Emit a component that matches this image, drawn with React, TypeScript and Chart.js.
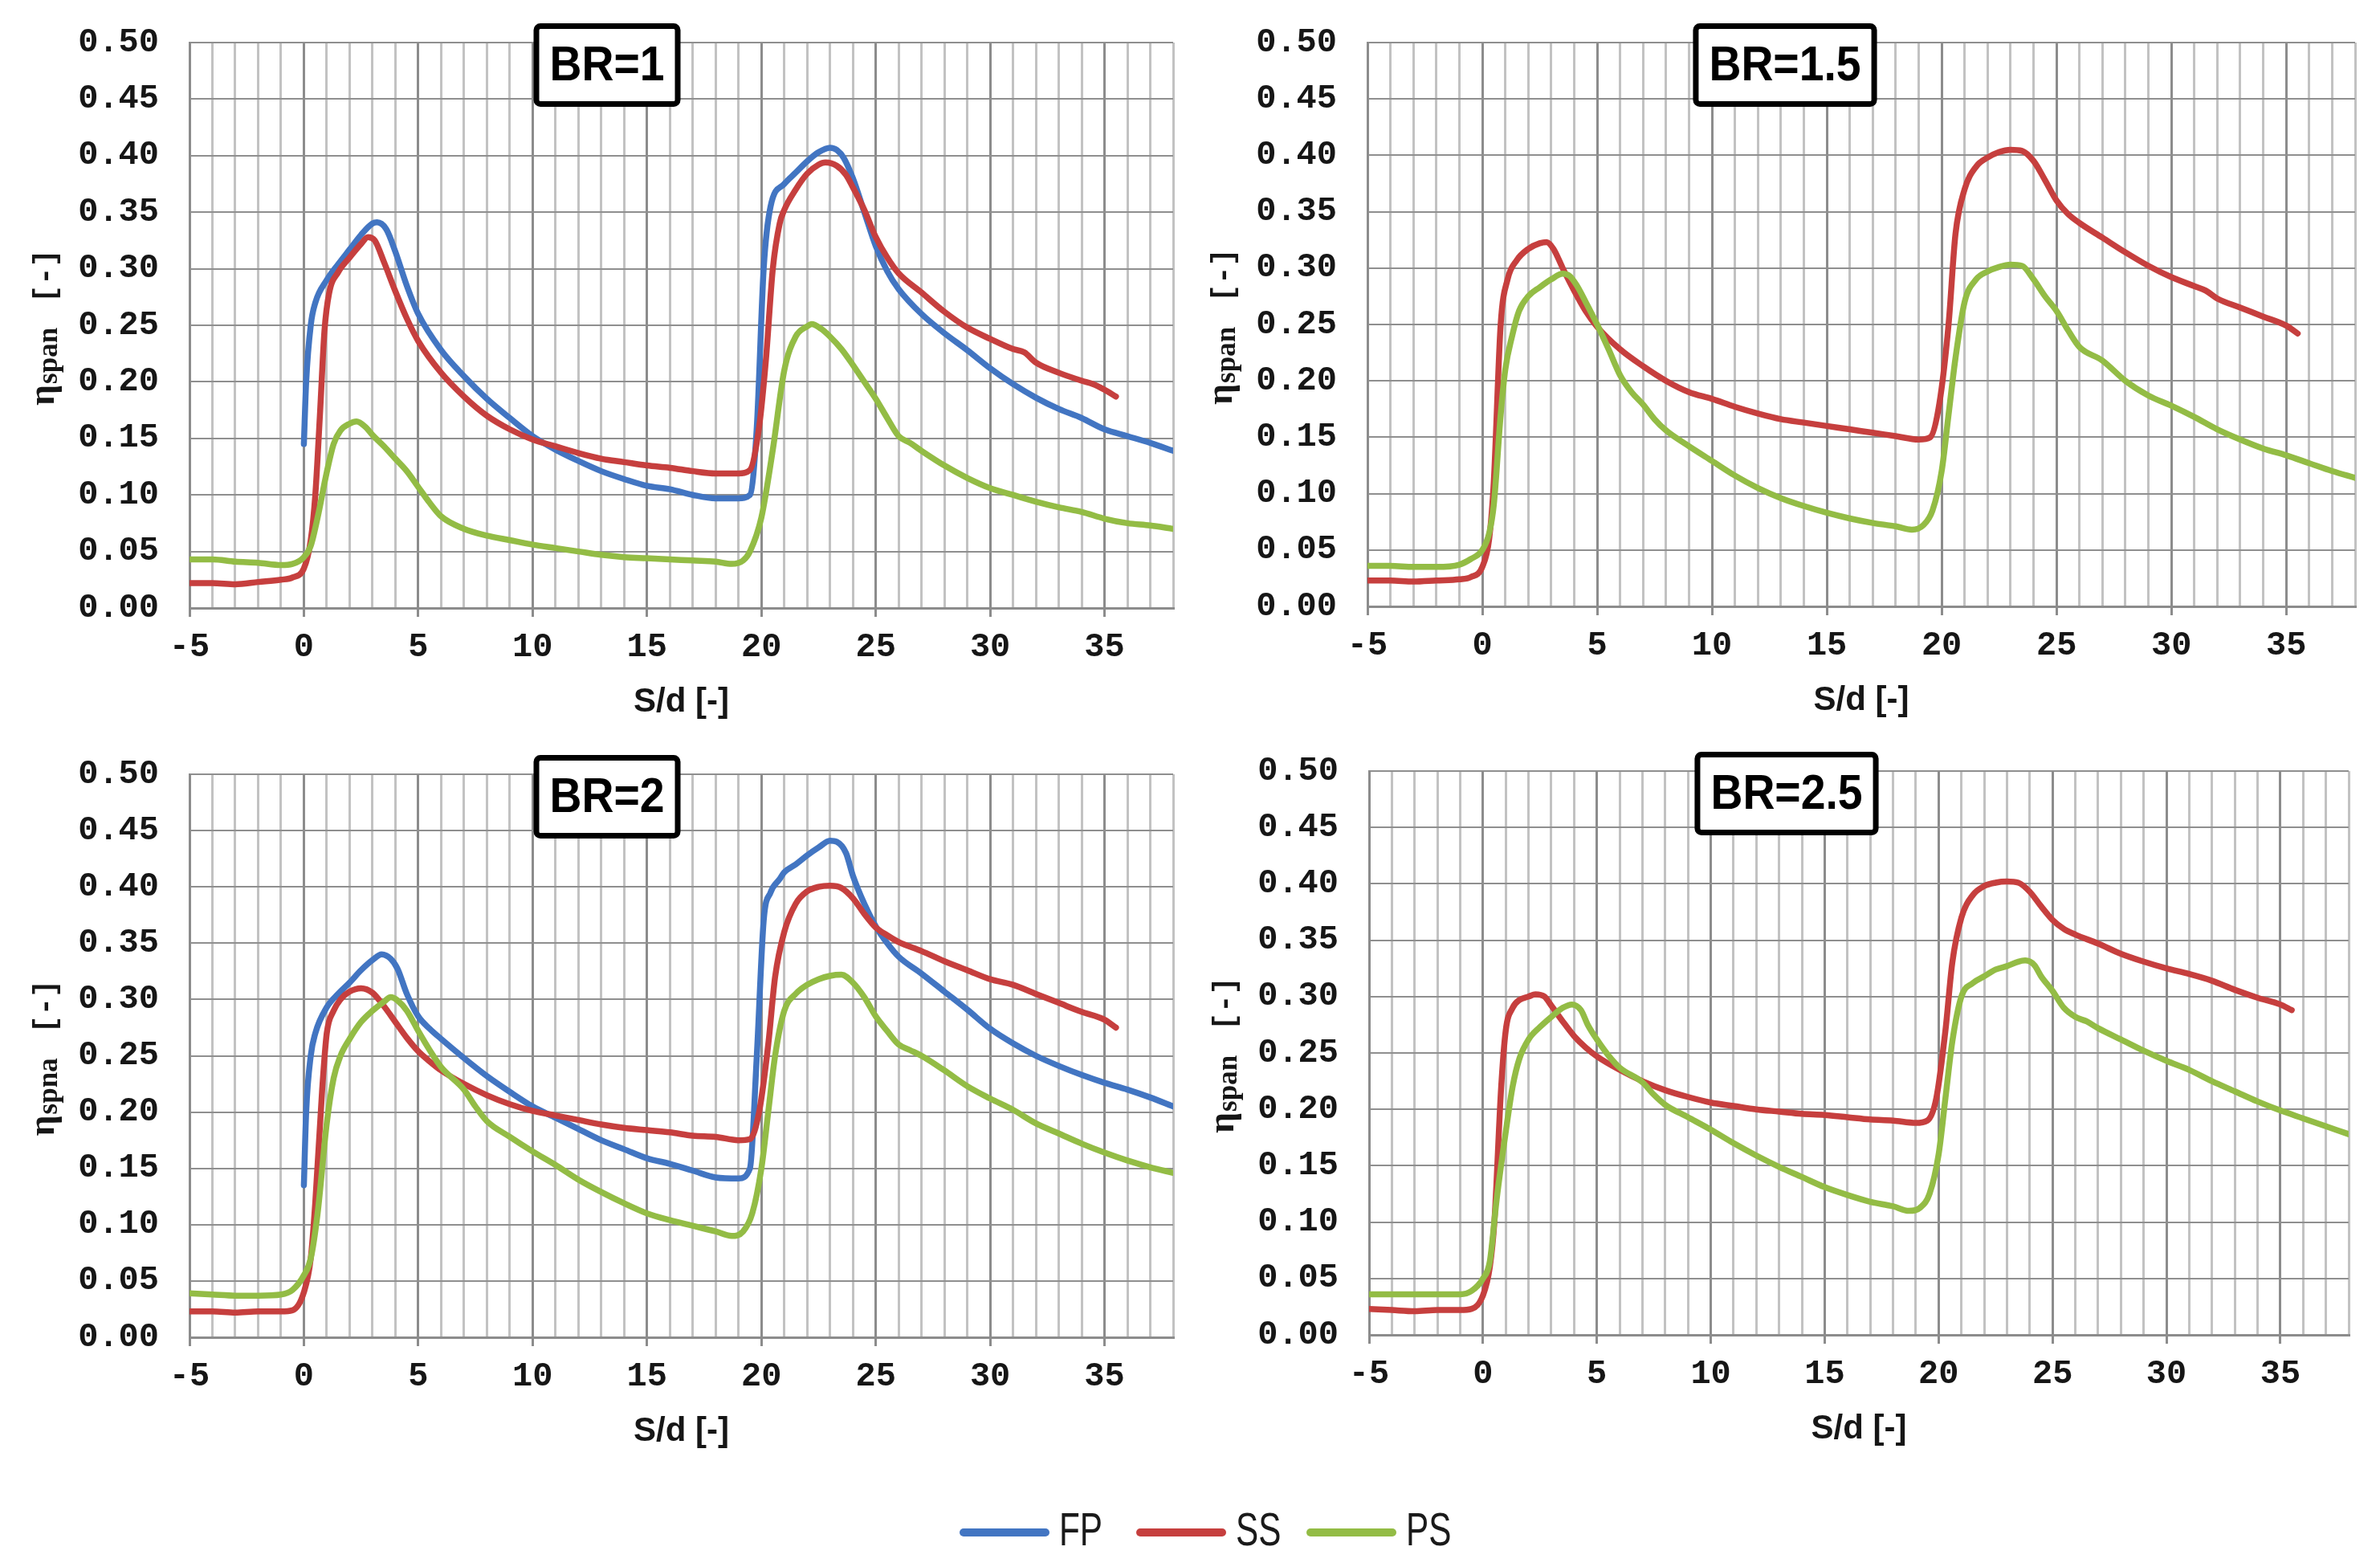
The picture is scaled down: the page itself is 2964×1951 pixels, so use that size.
import React, { useEffect, useRef } from 'react';
import { Chart, registerables } from 'chart.js';

Chart.register(...registerables);

type Pt = [number, number];

// ---------------- data ----------------
const SERIES_NAMES = ['FP', 'SS', 'PS'];
const PANEL_TITLES = ['BR=1', 'BR=1.5', 'BR=2', 'BR=2.5'];
const Y_SUBSCRIPTS = ['span', 'span', 'spna', 'span'];
const X_MIN = -5;
const X_MAX = 38;
const X_STEP = 1;
const X_LABEL_EVERY = 5;
const Y_MIN = 0;
const Y_MAX = 0.5;
const Y_STEP = 0.05;
const X_TITLE = 'S/d [-]';

const BR1_FP: Pt[] = [[0,0.145],[0.1,0.2],[0.3,0.25],[0.5,0.27],[1,0.29],[1.5,0.304],[2,0.317],[2.5,0.33],[3,0.34],[3.2,0.341],[3.6,0.335],[4,0.315],[4.5,0.285],[5,0.26],[6,0.228],[7,0.205],[8,0.185],[9,0.168],[10,0.152],[11,0.14],[12,0.13],[13,0.121],[14,0.114],[15,0.108],[16,0.105],[17,0.1],[18,0.097],[19,0.097],[19.5,0.1],[19.8,0.16],[20.1,0.3],[20.4,0.355],[21,0.375],[21.5,0.385],[22,0.395],[22.5,0.403],[23,0.407],[23.3,0.405],[23.6,0.398],[24,0.38],[24.5,0.35],[25,0.32],[25.5,0.298],[26,0.282],[27,0.26],[28,0.243],[29,0.228],[30,0.212],[31,0.198],[32,0.186],[33,0.176],[34,0.168],[35,0.158],[36,0.152],[37,0.146],[38,0.139]];
const BR1_SS: Pt[] = [[-5,0.022],[-4,0.022],[-3,0.021],[-2,0.023],[-1,0.025],[-0.5,0.027],[0,0.035],[0.3,0.06],[0.5,0.1],[0.7,0.17],[0.9,0.245],[1.1,0.278],[1.5,0.297],[2,0.31],[2.5,0.322],[2.8,0.328],[3.1,0.325],[3.5,0.306],[4,0.28],[4.5,0.256],[5,0.236],[6,0.208],[7,0.187],[8,0.17],[9,0.158],[10,0.149],[11,0.143],[12,0.137],[13,0.132],[14,0.129],[15,0.126],[16,0.124],[17,0.121],[18,0.119],[19,0.119],[19.5,0.122],[19.9,0.16],[20.2,0.22],[20.5,0.3],[20.8,0.34],[21,0.352],[21.5,0.37],[22,0.384],[22.5,0.392],[22.8,0.394],[23.3,0.391],[23.7,0.383],[24,0.372],[24.5,0.352],[25,0.328],[25.5,0.31],[26,0.296],[27,0.279],[28,0.262],[29,0.248],[30,0.238],[31,0.229],[31.5,0.226],[32,0.217],[33,0.208],[34,0.201],[34.5,0.198],[35,0.193],[35.5,0.187]];
const BR1_PS: Pt[] = [[-5,0.043],[-4,0.043],[-3,0.041],[-2,0.04],[-1,0.038],[-0.5,0.039],[0,0.045],[0.3,0.055],[0.6,0.08],[1,0.12],[1.3,0.145],[1.6,0.157],[2,0.163],[2.3,0.165],[2.7,0.16],[3,0.153],[3.5,0.143],[4,0.132],[4.5,0.121],[5,0.107],[5.5,0.093],[6,0.081],[7,0.07],[8,0.064],[9,0.06],[10,0.056],[11,0.053],[12,0.05],[13,0.047],[14,0.045],[15,0.044],[16,0.043],[17,0.042],[18,0.041],[18.7,0.039],[19.2,0.042],[19.5,0.05],[20,0.08],[20.5,0.14],[21,0.21],[21.5,0.24],[22,0.249],[22.2,0.251],[22.6,0.247],[23,0.24],[23.5,0.229],[24,0.215],[24.5,0.2],[25,0.185],[25.5,0.168],[26,0.152],[26.5,0.146],[27,0.139],[28,0.126],[29,0.115],[30,0.106],[31,0.1],[32,0.094],[33,0.089],[34,0.085],[35,0.079],[36,0.075],[37,0.073],[38,0.07]];

const BR15_SS: Pt[] = [[-5,0.023],[-4,0.023],[-3,0.022],[-2,0.023],[-1,0.024],[-0.5,0.026],[0,0.035],[0.3,0.06],[0.5,0.11],[0.8,0.25],[1.1,0.29],[1.5,0.307],[2,0.317],[2.5,0.322],[2.8,0.323],[3.1,0.317],[3.5,0.3],[4,0.28],[4.5,0.262],[5,0.248],[6,0.228],[7,0.213],[8,0.2],[9,0.19],[10,0.184],[11,0.177],[12,0.171],[13,0.166],[14,0.163],[15,0.16],[16,0.157],[17,0.154],[18,0.151],[19,0.148],[19.5,0.15],[19.9,0.18],[20.3,0.25],[20.6,0.33],[21,0.37],[21.5,0.39],[22,0.398],[22.5,0.403],[23,0.405],[23.5,0.404],[24,0.395],[24.5,0.378],[25,0.36],[25.5,0.348],[26,0.34],[27,0.327],[28,0.314],[29,0.302],[30,0.292],[31,0.284],[31.5,0.28],[32,0.273],[33,0.265],[34,0.257],[35,0.249],[35.5,0.242]];
const BR15_PS: Pt[] = [[-5,0.036],[-4,0.036],[-3,0.035],[-2,0.035],[-1,0.037],[-0.5,0.042],[0,0.05],[0.3,0.065],[0.5,0.09],[0.8,0.17],[1,0.21],[1.3,0.24],[1.6,0.262],[2,0.275],[2.5,0.283],[3,0.29],[3.5,0.295],[3.8,0.293],[4.1,0.285],[4.5,0.27],[5,0.25],[5.5,0.228],[6,0.205],[6.5,0.19],[7,0.179],[7.5,0.166],[8,0.156],[9,0.142],[10,0.129],[11,0.116],[12,0.105],[13,0.096],[14,0.089],[15,0.083],[16,0.078],[17,0.074],[18,0.071],[18.7,0.068],[19.2,0.072],[19.6,0.085],[20,0.12],[20.3,0.17],[20.6,0.22],[21,0.27],[21.5,0.29],[22,0.297],[22.5,0.301],[23,0.303],[23.5,0.302],[24,0.29],[24.5,0.275],[25,0.262],[25.5,0.245],[26,0.23],[27,0.218],[28,0.2],[29,0.187],[30,0.178],[31,0.168],[32,0.157],[33,0.148],[34,0.14],[35,0.134],[36,0.127],[37,0.12],[38,0.114]];

const BR2_FP: Pt[] = [[0,0.135],[0.1,0.2],[0.3,0.25],[0.5,0.27],[1,0.293],[1.5,0.305],[2,0.315],[2.5,0.326],[3,0.335],[3.4,0.34],[3.8,0.336],[4.1,0.327],[4.5,0.305],[5,0.285],[5.5,0.274],[6,0.265],[7,0.248],[8,0.232],[9,0.218],[10,0.205],[11,0.195],[12,0.185],[13,0.175],[14,0.167],[15,0.159],[16,0.154],[17,0.148],[18,0.142],[19,0.141],[19.5,0.15],[19.8,0.25],[20.1,0.37],[20.4,0.395],[20.8,0.407],[21,0.413],[21.5,0.42],[22,0.428],[22.5,0.435],[23,0.441],[23.3,0.44],[23.7,0.43],[24,0.41],[24.5,0.385],[25,0.365],[25.5,0.35],[26,0.338],[27,0.323],[28,0.307],[29,0.291],[30,0.274],[31,0.261],[32,0.25],[33,0.241],[34,0.233],[35,0.226],[36,0.22],[37,0.213],[38,0.205]];
const BR2_SS: Pt[] = [[-5,0.023],[-4,0.023],[-3,0.022],[-2,0.023],[-1,0.023],[-0.5,0.024],[0,0.04],[0.3,0.07],[0.5,0.12],[0.8,0.22],[1,0.27],[1.3,0.29],[1.6,0.3],[2,0.307],[2.5,0.31],[3,0.306],[3.5,0.294],[4,0.28],[4.5,0.266],[5,0.254],[5.5,0.245],[6,0.237],[7,0.225],[8,0.215],[9,0.207],[10,0.201],[11,0.197],[12,0.193],[13,0.189],[14,0.186],[15,0.184],[16,0.182],[17,0.179],[18,0.178],[19,0.175],[19.5,0.176],[19.9,0.2],[20.3,0.26],[20.6,0.32],[21,0.36],[21.5,0.385],[22,0.396],[22.5,0.4],[23,0.401],[23.5,0.399],[24,0.39],[24.5,0.376],[25,0.364],[25.5,0.357],[26,0.351],[27,0.343],[28,0.334],[29,0.326],[30,0.318],[31,0.313],[32,0.305],[33,0.297],[34,0.289],[35,0.282],[35.5,0.275]];
const BR2_PS: Pt[] = [[-5,0.039],[-4,0.038],[-3,0.037],[-2,0.037],[-1,0.038],[-0.5,0.042],[0,0.055],[0.3,0.07],[0.6,0.11],[1,0.19],[1.3,0.23],[1.6,0.25],[2,0.265],[2.5,0.28],[3,0.29],[3.5,0.298],[3.8,0.302],[4.1,0.299],[4.5,0.29],[5,0.272],[5.5,0.255],[6,0.24],[7,0.22],[7.5,0.205],[8,0.192],[9,0.178],[10,0.165],[11,0.153],[12,0.14],[13,0.129],[14,0.119],[15,0.11],[16,0.104],[17,0.099],[18,0.094],[18.7,0.09],[19.2,0.094],[19.6,0.11],[20,0.15],[20.3,0.2],[20.6,0.25],[21,0.29],[21.5,0.305],[22,0.313],[22.5,0.318],[23,0.321],[23.5,0.322],[24,0.315],[24.5,0.302],[25,0.285],[25.5,0.272],[26,0.26],[26.5,0.255],[27,0.25],[28,0.237],[29,0.223],[30,0.212],[31,0.202],[32,0.19],[33,0.181],[34,0.172],[35,0.164],[36,0.157],[37,0.151],[38,0.146]];

const BR25_SS: Pt[] = [[-5,0.023],[-4,0.022],[-3,0.021],[-2,0.022],[-1,0.022],[-0.5,0.023],[0,0.035],[0.3,0.06],[0.5,0.1],[0.8,0.22],[1,0.27],[1.3,0.29],[1.6,0.297],[2,0.3],[2.3,0.302],[2.7,0.3],[3,0.292],[3.5,0.278],[4,0.265],[4.5,0.255],[5,0.247],[6,0.235],[7,0.225],[8,0.217],[9,0.211],[10,0.206],[11,0.203],[12,0.2],[13,0.198],[14,0.196],[15,0.195],[16,0.193],[17,0.191],[18,0.19],[19,0.188],[19.5,0.19],[19.9,0.21],[20.3,0.27],[20.6,0.33],[21,0.37],[21.5,0.39],[22,0.398],[22.5,0.401],[23,0.402],[23.5,0.401],[24,0.393],[24.5,0.38],[25,0.368],[25.5,0.36],[26,0.355],[27,0.347],[28,0.338],[29,0.331],[30,0.325],[31,0.32],[32,0.314],[33,0.306],[34,0.299],[35,0.293],[35.5,0.288]];
const BR25_PS: Pt[] = [[-5,0.036],[-4,0.036],[-3,0.036],[-2,0.036],[-1,0.036],[-0.5,0.039],[0,0.05],[0.3,0.065],[0.6,0.12],[1,0.18],[1.3,0.22],[1.6,0.245],[2,0.262],[2.5,0.273],[3,0.282],[3.5,0.29],[3.9,0.293],[4.3,0.288],[4.6,0.275],[5,0.262],[5.5,0.248],[6,0.237],[7,0.224],[7.5,0.213],[8,0.204],[9,0.193],[10,0.182],[11,0.17],[12,0.159],[13,0.149],[14,0.14],[15,0.131],[16,0.124],[17,0.118],[18,0.114],[18.7,0.11],[19.2,0.113],[19.6,0.125],[20,0.16],[20.3,0.21],[20.6,0.26],[21,0.3],[21.5,0.312],[22,0.318],[22.5,0.324],[23,0.327],[23.5,0.331],[23.8,0.332],[24.2,0.328],[24.5,0.318],[25,0.305],[25.5,0.29],[26,0.282],[26.5,0.278],[27,0.272],[28,0.262],[29,0.252],[30,0.243],[31,0.235],[32,0.225],[33,0.216],[34,0.207],[35,0.199],[36,0.192],[37,0.185],[38,0.178]];

// series per panel, in FP / SS / PS order (null = not measured)
const PANEL_SERIES: (Pt[] | null)[][] = [
  [BR1_FP, BR1_SS, BR1_PS],
  [null, BR15_SS, BR15_PS],
  [BR2_FP, BR2_SS, BR2_PS],
  [null, BR25_SS, BR25_PS],
];

// ---------------- styles / layout ----------------
const COLORS = ['#4275C2', '#C63F3E', '#93BC45'];
const GRID_MAJOR = '#8c8c8c';
const GRID_MINOR = '#c2c2c2';
const GRID_H = '#8f8f8f';
const TEXT = '#161616';
const MONO = '"Liberation Mono", "DejaVu Sans Mono", monospace';
const SANS = '"Liberation Sans", Arial, sans-serif';
const NARROW = '"Liberation Sans Narrow", "Liberation Sans", Arial, sans-serif';
const SERIF = '"Liberation Serif", "DejaVu Serif", serif';

// canvas [left, top, width, height]; plot area [left, top, right, bottom]
const LAYOUT = [
  { canvas: [0, 0, 1480, 910], area: [236, 53, 1461, 757] },
  { canvas: [1480, 0, 1484, 908], area: [1703, 53, 2933, 755] },
  { canvas: [0, 910, 1480, 908], area: [236, 964, 1461, 1665] },
  { canvas: [1480, 910, 1484, 905], area: [1705, 960, 2925, 1662] },
];

const LEGEND_LINE_X = [1195, 1415, 1627];
const LEGEND_LINE_W = 112;
const LEGEND_TEXT_DX = 124;

const decorPlugin = {
  id: 'decor',
  afterDraw(chart: any, _args: any, opts: any) {
    const { ctx, chartArea: a } = chart;
    // title box
    ctx.save();
    ctx.font = `bold 62px ${SANS}`;
    const s = 143 / ctx.measureText('BR=1').width;
    const tw = ctx.measureText(opts.title).width * s;
    const bw = tw + 40;
    const bh = 104;
    const lw = 7;
    const cx = a.left + 520;
    const top = a.top - 24;
    ctx.beginPath();
    const rx = cx - bw / 2 + lw / 2;
    const ry = top + lw / 2;
    if (ctx.roundRect) ctx.roundRect(rx, ry, bw - lw, bh - lw, 5);
    else ctx.rect(rx, ry, bw - lw, bh - lw);
    ctx.fillStyle = '#ffffff';
    ctx.fill();
    ctx.lineWidth = lw;
    ctx.strokeStyle = '#000000';
    ctx.stroke();
    ctx.fillStyle = '#000000';
    ctx.textAlign = 'center';
    ctx.textBaseline = 'middle';
    ctx.translate(cx, top + bh / 2 + 2);
    ctx.scale(s, 1);
    ctx.fillText(opts.title, 0, 0);
    ctx.restore();

    // y-axis label: eta_sub [-]
    ctx.save();
    const bx = a.left - 169;
    const sy = (a.top + a.bottom) / 2 + 100;
    ctx.translate(bx, sy);
    ctx.rotate(-Math.PI / 2);
    ctx.fillStyle = TEXT;
    ctx.textAlign = 'left';
    ctx.textBaseline = 'alphabetic';
    ctx.font = `bold 46px ${SERIF}`;
    ctx.fillText('η', 0, 0);
    const ew = ctx.measureText('η').width;
    ctx.font = `bold 35px ${SERIF}`;
    ctx.fillText(opts.sub, ew + 1, 4);
    ctx.font = `bold 37px ${MONO}`;
    ctx.fillText('[-]', 128, 0);
    ctx.restore();
  },
};

function buildConfig(idx: number): any {
  const { canvas, area } = LAYOUT[idx];
  const [cl, ct, cw, ch] = canvas;
  const [al, at, ar, ab] = area;
  const padTop = at - ct;
  const yWidth = al - cl;
  const padRight = cl + cw - ar;
  const xHeight = ct + ch - ab;
  const isMajor = (v: number) => Math.abs(v % X_LABEL_EVERY) < 1e-9;

  const datasets = PANEL_SERIES[idx]
    .map((pts, si) =>
      pts
        ? {
            label: SERIES_NAMES[si],
            data: pts.map(([x, y]) => ({ x, y })),
            borderColor: COLORS[si],
            backgroundColor: COLORS[si],
            borderWidth: 7.5,
            pointRadius: 0,
            pointHoverRadius: 0,
            fill: false,
            cubicInterpolationMode: 'monotone',
            borderCapStyle: 'round',
            borderJoinStyle: 'round',
            order: 3 - si,
          }
        : null
    )
    .filter(Boolean);

  return {
    type: 'line',
    data: { datasets },
    options: {
      animation: false,
      responsive: false,
      maintainAspectRatio: false,
      devicePixelRatio: 1,
      events: [],
      layout: { autoPadding: false, padding: { left: 0, top: padTop, right: padRight, bottom: 0 } },
      plugins: {
        legend: { display: false },
        tooltip: { enabled: false },
        title: { display: false },
        decor: { title: PANEL_TITLES[idx], sub: Y_SUBSCRIPTS[idx] },
      },
      scales: {
        x: {
          type: 'linear',
          min: X_MIN,
          max: X_MAX,
          afterFit: (s: any) => {
            s.height = xHeight;
          },
          ticks: {
            stepSize: X_STEP,
            autoSkip: false,
            maxRotation: 0,
            padding: 13,
            color: TEXT,
            font: { family: MONO, size: 42, weight: 'bold' },
            callback: (v: any) => (isMajor(Number(v)) ? String(v) : ''),
          },
          grid: {
            color: (c: any) => (c.tick && isMajor(c.tick.value) ? GRID_MAJOR : GRID_MINOR),
            lineWidth: 3,
            drawTicks: true,
            tickLength: 11,
            tickColor: (c: any) => (c.tick && isMajor(c.tick.value) ? GRID_MAJOR : 'rgba(0,0,0,0)'),
            tickWidth: 3,
          },
          border: { display: true, color: GRID_MAJOR, width: 3 },
          title: {
            display: true,
            text: X_TITLE,
            color: TEXT,
            font: { family: SANS, size: 42, weight: 'bold' },
            padding: { top: 0, bottom: 10 },
          },
        },
        y: {
          type: 'linear',
          min: Y_MIN,
          max: Y_MAX,
          afterFit: (s: any) => {
            s.width = yWidth;
          },
          ticks: {
            stepSize: Y_STEP,
            padding: 10,
            color: TEXT,
            font: { family: MONO, size: 42, weight: 'bold' },
            callback: (v: any) => Number(v).toFixed(2),
          },
          grid: {
            color: GRID_H,
            lineWidth: 2,
            drawTicks: true,
            tickLength: 28,
            tickColor: 'rgba(0,0,0,0)',
          },
          border: { display: true, color: GRID_MAJOR, width: 3 },
        },
      },
    },
    plugins: [decorPlugin],
  };
}

function Panel({ idx }: { idx: number }) {
  const ref = useRef<HTMLCanvasElement>(null);
  useEffect(() => {
    const chart = new Chart(ref.current as HTMLCanvasElement, buildConfig(idx));
    return () => chart.destroy();
  }, [idx]);
  const [l, t, w, h] = LAYOUT[idx].canvas;
  return (
    <canvas
      ref={ref}
      width={w}
      height={h}
      style={{ position: 'absolute', left: l, top: t, width: w, height: h }}
    />
  );
}

function Legend() {
  const font = `57px ${NARROW}`;
  let scale = 1;
  if (typeof document !== 'undefined') {
    const c = document.createElement('canvas').getContext('2d');
    if (c) {
      c.font = font;
      scale = 54 / c.measureText('FP').width;
    }
  }
  return (
    <>
      {SERIES_NAMES.map((name, i) => (
        <React.Fragment key={name}>
          <div
            style={{
              position: 'absolute',
              left: LEGEND_LINE_X[i],
              top: 1903,
              width: LEGEND_LINE_W,
              height: 10,
              borderRadius: 5,
              background: COLORS[i],
            }}
          />
          <div
            style={{
              position: 'absolute',
              left: LEGEND_LINE_X[i] + LEGEND_TEXT_DX,
              top: 1876,
              font,
              lineHeight: '57px',
              color: '#1a1a1a',
              whiteSpace: 'nowrap',
              transform: `scaleX(${scale})`,
              transformOrigin: 'left top',
            }}
          >
            {name}
          </div>
        </React.Fragment>
      ))}
    </>
  );
}

export default function App() {
  return (
    <div
      style={{
        position: 'absolute',
        left: 0,
        top: 0,
        width: 2964,
        height: 1951,
        background: '#ffffff',
        overflow: 'hidden',
      }}
    >
      {[0, 1, 2, 3].map((i) => (
        <Panel key={i} idx={i} />
      ))}
      <Legend />
    </div>
  );
}
